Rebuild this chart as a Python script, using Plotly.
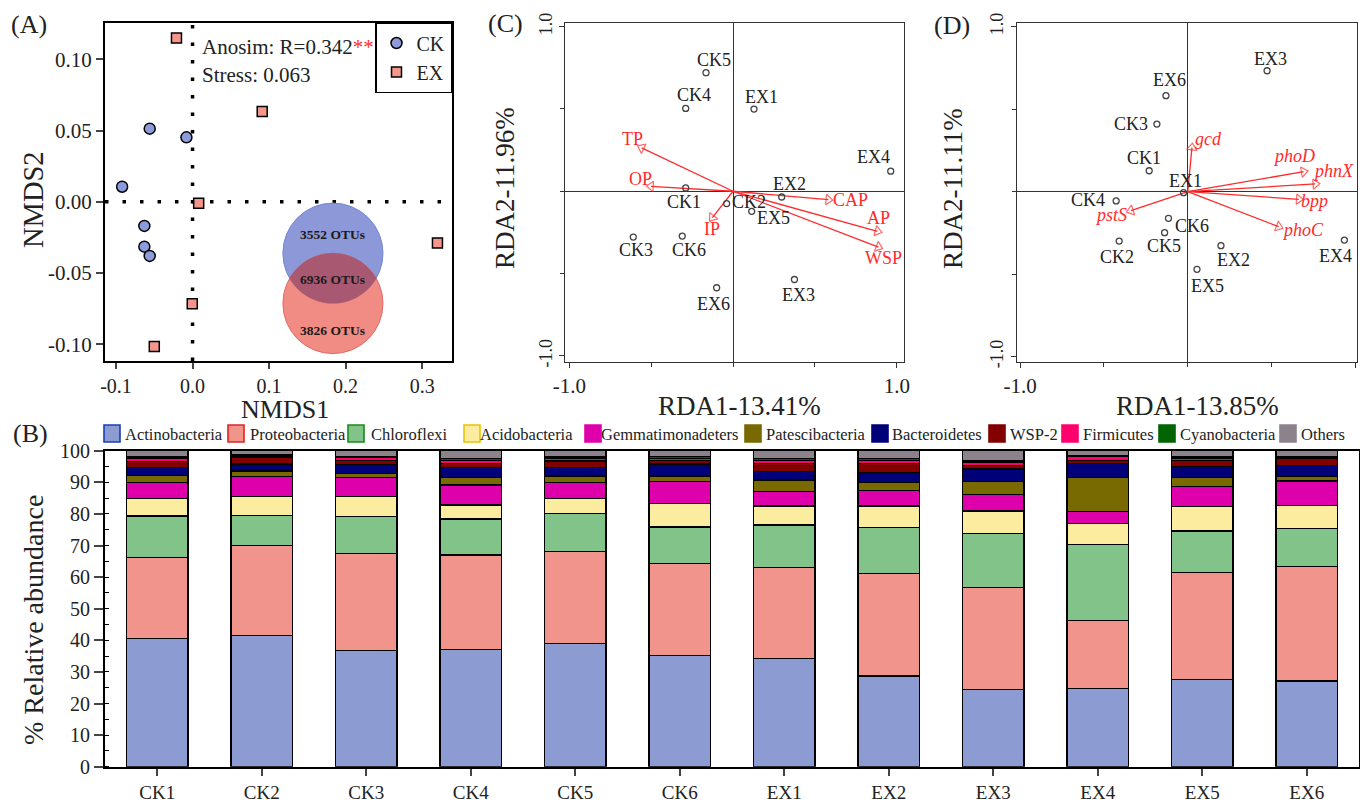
import numpy as np
import plotly.graph_objects as go

W, H = 1360, 803
SERIF = "Liberation Serif, Times New Roman, serif"

# ---------------- Panel A: NMDS ----------------
ck_nmds1 = [-0.056, -0.008, -0.092, -0.063, -0.063, -0.056]
ck_nmds2 = [0.0514, 0.0453, 0.0106, -0.0169, -0.0315, -0.038]
ex_nmds1 = [-0.021, 0.091, 0.008, 0.320, -0.0004, -0.050]
ex_nmds2 = [0.115, 0.0634, -0.001, -0.029, -0.0716, -0.1017]
venn_labels = ["3552 OTUs", "6936 OTUs", "3826 OTUs"]
anosim_r = "0.342"
stress_val = "0.063"

# ---------------- Panel C: RDA (P fractions) ----------------
samples = ["CK1", "CK2", "CK3", "CK4", "CK5", "CK6", "EX1", "EX2", "EX3", "EX4", "EX5", "EX6"]
c_rda1 = [-0.289, -0.039, -0.609, -0.289, -0.165, -0.310, 0.128, 0.297, 0.375, 0.963, 0.114, -0.100]
c_rda2 = [0.020, -0.075, -0.278, 0.503, 0.720, -0.272, 0.499, -0.035, -0.536, 0.122, -0.122, -0.586]
c_vars = ["TP", "OP", "CAP", "AP", "WSP", "IP"]
c_var1 = [-0.558, -0.501, 0.582, 0.882, 0.888, -0.126]
c_var2 = [0.264, 0.030, -0.051, -0.243, -0.339, -0.160]

# ---------------- Panel D: RDA (genes) ----------------
d_rda1 = [-0.230, -0.409, -0.184, -0.427, -0.138, -0.115, -0.025, 0.198, 0.473, 0.934, 0.055, -0.130]
d_rda2 = [0.127, -0.299, 0.410, -0.056, -0.248, -0.161, -0.006, -0.327, 0.733, -0.293, -0.470, 0.582]
d_genes = ["gcd", "phoD", "phnX", "bpp", "phoC", "pstS"]
d_gene1 = [0.025, 0.691, 0.761, 0.662, 0.542, -0.339]
d_gene2 = [0.267, 0.121, 0.047, -0.046, -0.212, -0.115]

# ---------------- Panel B: relative abundance ----------------
phyla = ["Actinobacteria", "Proteobacteria", "Chloroflexi", "Acidobacteria", "Gemmatimonadeters",
         "Patescibacteria", "Bacteroidetes", "WSP-2", "Firmicutes", "Cyanobacteria", "Others"]
actinobacteria = [40.6, 41.5, 36.7, 37.0, 39.0, 35.3, 34.3, 28.7, 24.5, 24.8, 27.6, 27.1]
proteobacteria = [25.5, 28.6, 30.8, 30.0, 29.0, 29.0, 28.7, 32.5, 32.1, 21.4, 33.8, 36.2]
chloroflexi = [13.2, 9.3, 11.6, 11.4, 12.2, 11.6, 13.5, 14.4, 17.2, 24.2, 13.2, 12.1]
acidobacteria = [5.6, 6.0, 6.3, 4.4, 4.7, 7.4, 6.0, 6.9, 7.1, 6.6, 7.7, 7.2]
gemmatimonadetes = [5.0, 6.4, 6.1, 6.3, 5.1, 6.9, 4.7, 4.8, 5.3, 3.7, 6.3, 7.8]
patescibacteria = [2.2, 1.8, 1.3, 2.5, 2.0, 1.8, 3.5, 2.7, 4.0, 10.8, 3.0, 1.4]
bacteroidetes = [2.5, 2.2, 2.9, 3.1, 2.6, 3.8, 2.7, 3.0, 4.0, 4.5, 3.3, 3.5]
wsp2 = [1.9, 2.0, 1.3, 1.3, 2.1, 1.2, 2.6, 3.0, 1.1, 1.0, 2.1, 2.3]
firmicutes = [1.1, 0.5, 0.8, 1.0, 0.9, 0.6, 1.0, 1.0, 1.0, 1.1, 0.6, 0.3]
cyanobacteria = [0.4, 0.3, 0.4, 0.6, 0.4, 0.5, 0.6, 0.6, 0.4, 0.3, 0.4, 0.3]
others = [2.0, 1.4, 1.8, 2.4, 2.0, 1.9, 2.4, 2.4, 3.3, 1.9, 2.0, 1.8]
abund = [actinobacteria, proteobacteria, chloroflexi, acidobacteria, gemmatimonadetes,
         patescibacteria, bacteroidetes, wsp2, firmicutes, cyanobacteria, others]

# ---------------- styles ----------------
fill_cols = ["#8c9bd2", "#f0948c", "#82c38a", "#fcec9f", "#de00aa", "#786900",
             "#000078", "#820000", "#ff006e", "#006400", "#8c828c"]
legend_border = ["#1a3fb0", "#e02424", "#1a8a1a", "#e8c400", "#de00aa", "#786900",
                 "#000078", "#820000", "#ff006e", "#006400", "#8c828c"]
legend_box_px = [104, 228, 348, 464, 585, 745, 872, 989, 1062, 1159, 1280]
legend_txt_px = [125, 250, 371, 480, 601, 766, 892, 1010, 1083, 1180, 1301]

c_lab_off = [(-2, 14), (22, -2), (3, 13), (8, -13), (8, -13), (7, 14),
             (8, -12), (8, -13), (4, 15), (-17, -14), (22, 7), (-3, 16)]
c_var_off = [(-9, -9), (-10, -7), (22, 0), (1, -13), (5, 11), (0, 11)]
d_lab_off = [(-5, -13), (-2, 16), (-26, 0), (-28, -1), (-1, 13), (24, 8),
             (2, -12), (13, 14), (3, -12), (-9, 16), (11, 17), (4, -16)]
d_var_off = [(17, -9), (-10, -16), (18, -13), (16, 2), (24, 3), (-20, 4)]

RED = "#ff2a2a"
TXT = "#222"


def px(x):
    return x / W


def py(y):
    return 1 - y / H


fig = go.Figure()

# ---- Panel A traces ----
fig.add_trace(go.Scatter(x=ck_nmds1, y=ck_nmds2, mode="markers", name="CK",
                         marker=dict(symbol="circle", size=11, color="#8c9bdc",
                                     line=dict(color="black", width=1.5)),
                         xaxis="x", yaxis="y"))
fig.add_trace(go.Scatter(x=ex_nmds1, y=ex_nmds2, mode="markers", name="EX",
                         marker=dict(symbol="square", size=10, color="#f5968c",
                                     line=dict(color="black", width=1.5)),
                         xaxis="x", yaxis="y"))

# ---- Panel C traces ----
for name, vx, vy in zip(c_vars, c_var1, c_var2):
    fig.add_trace(go.Scatter(x=[0, vx], y=[0, vy], mode="lines+markers", showlegend=False,
                             line=dict(color=RED, width=1.3),
                             marker=dict(symbol="triangle-up-open", size=[0, 9], angleref="previous",
                                         color=RED, line=dict(color=RED, width=1.2)),
                             xaxis="x2", yaxis="y2", hoverinfo="skip"))
fig.add_trace(go.Scatter(x=c_rda1, y=c_rda2, mode="markers", showlegend=False,
                         marker=dict(symbol="circle-open", size=6, color="#444",
                                     line=dict(width=1.3)),
                         xaxis="x2", yaxis="y2"))

# ---- Panel D traces ----
for name, vx, vy in zip(d_genes, d_gene1, d_gene2):
    fig.add_trace(go.Scatter(x=[0, vx], y=[0, vy], mode="lines+markers", showlegend=False,
                             line=dict(color=RED, width=1.3),
                             marker=dict(symbol="triangle-up-open", size=[0, 9], angleref="previous",
                                         color=RED, line=dict(color=RED, width=1.2)),
                             xaxis="x3", yaxis="y3", hoverinfo="skip"))
fig.add_trace(go.Scatter(x=d_rda1, y=d_rda2, mode="markers", showlegend=False,
                         marker=dict(symbol="circle-open", size=6, color="#444",
                                     line=dict(width=1.3)),
                         xaxis="x3", yaxis="y3"))

# ---- Panel B bars ----
for name, vals, col in zip(phyla, abund, fill_cols):
    fig.add_trace(go.Bar(x=samples, y=vals, name=name, showlegend=False,
                         marker=dict(color=col, line=dict(color="black", width=1.3)),
                         xaxis="x4", yaxis="y4"))

# ---- axes ----
tf_a = dict(family=SERIF, size=21, color=TXT)
tf_ax = dict(family=SERIF, size=20, color=TXT)
tf_rx = dict(family=SERIF, size=21, color=TXT)
tf_ry = dict(family=SERIF, size=18, color=TXT)
tf_b = dict(family=SERIF, size=20, color=TXT)
tf_bx = dict(family=SERIF, size=19, color=TXT)
frame = dict(showline=True, linecolor="black", mirror=True, showgrid=False, zeroline=False,
             automargin=False)


def rda_axis(domain, rng, anchor, tf, angle=None):
    d = dict(domain=domain, range=rng, anchor=anchor,
             tickvals=[-1, 1], ticktext=["-1.0", "1.0"], ticks="outside", ticklen=5, tickwidth=1.3,
             tickcolor="#333",
             minor=dict(tickvals=[-0.5, 0, 0.5], ticks="outside", ticklen=4, tickwidth=1.2, tickcolor="#333"),
             linewidth=1.4, linecolor="#333", mirror=True, showgrid=False, showline=True,
             zeroline=True, zerolinecolor="#333", zerolinewidth=1.3, tickfont=tf, automargin=False)
    if angle is not None:
        d["tickangle"] = angle
    return d


fig.update_layout(
    xaxis=dict(domain=[px(105), px(452)], range=[-0.1144, 0.339], anchor="y",
               tickvals=[-0.1, 0.0, 0.1, 0.2, 0.3], ticktext=["-0.1", "0.0", "0.1", "0.2", "0.3"],
               ticks="outside", ticklen=6, tickwidth=1.5, linewidth=2, tickfont=tf_ax, **frame),
    yaxis=dict(domain=[py(361), py(22.7)], range=[-0.1118, 0.1258], anchor="x",
               tickvals=[-0.1, -0.05, 0.0, 0.05, 0.1], ticktext=["-0.10", "-0.05", "0.00", "0.05", "0.10"],
               ticks="outside", ticklen=7, tickwidth=1.5, linewidth=2, tickfont=tf_a, **frame),
    xaxis2=rda_axis([px(565), px(904)], [-1.026, 1.044], "y2", tf_rx),
    yaxis2=rda_axis([py(361.5), py(23)], [-1.034, 1.022], "x2", tf_ry, -90),
    xaxis3=rda_axis([px(1016.7), px(1357.3)], [-1.02, 1.011], "y3", tf_rx),
    yaxis3=rda_axis([py(361.7), py(22.7)], [-1.03, 1.024], "x3", tf_ry, -90),
    xaxis4=dict(domain=[px(105), px(1359)], range=[-0.5, 11.5], anchor="y4", type="category",
                ticks="outside", ticklen=7, tickwidth=1.5, linewidth=2, tickfont=tf_bx, **frame),
    yaxis4=dict(domain=[py(766.7), py(450.7)], range=[0, 100], anchor="x4",
                dtick=10, ticks="outside", ticklen=9, tickwidth=1.5, linewidth=2,
                minor=dict(dtick=5, ticks="inside", ticklen=4, tickwidth=1.2, tickcolor="black"),
                tickfont=tf_b, **frame),
    barmode="stack", bargap=0.41,
    width=W, height=H, autosize=False,
    margin=dict(l=0, r=0, t=0, b=0, pad=0, autoexpand=False),
    paper_bgcolor="white", plot_bgcolor="white",
    font=dict(family=SERIF, color=TXT),
    legend=dict(x=px(452), xanchor="right", y=py(22), yanchor="top", traceorder="normal",
                bgcolor="white", bordercolor="black", borderwidth=1.5,
                font=dict(family=SERIF, size=20, color=TXT), itemwidth=30,
                tracegroupgap=0),
)

shapes = []
annotations = []


def ann(**kw):
    base = dict(showarrow=False, xanchor="center", yanchor="middle")
    base.update(kw)
    annotations.append(base)


# dotted zero lines in A
shapes.append(dict(type="line", xref="x", yref="y domain", x0=0, x1=0, y0=0, y1=1,
                   line=dict(color="black", width=3.5, dash="3.5px,14px"), layer="below"))
shapes.append(dict(type="line", xref="x domain", yref="y", x0=0, x1=1, y0=0, y1=0,
                   line=dict(color="black", width=3.5, dash="3.5px,14px"), layer="below"))

# Venn diagram in A
v_cx, v_cy_top, v_cy_bot, v_rx, v_ry = 0.1834, -0.0361, -0.0714, 0.0654, 0.0352
shapes.append(dict(type="circle", xref="x", yref="y",
                   x0=v_cx - v_rx, x1=v_cx + v_rx, y0=v_cy_top - v_ry, y1=v_cy_top + v_ry,
                   fillcolor="rgb(140,152,215)", line=dict(color="#6f86d6", width=1)))
shapes.append(dict(type="circle", xref="x", yref="y",
                   x0=v_cx - v_rx, x1=v_cx + v_rx, y0=v_cy_bot - v_ry, y1=v_cy_bot + v_ry,
                   fillcolor="rgb(240,140,132)", line=dict(color="#e06a66", width=1)))
d_norm = (v_cy_top - v_cy_bot) / v_ry
a_ang = np.arcsin(d_norm / 2)
t1 = np.linspace(-np.pi + a_ang, -a_ang, 40)
t2 = np.linspace(a_ang, np.pi - a_ang, 40)
lx = np.concatenate([v_cx + v_rx * np.cos(t1), v_cx + v_rx * np.cos(t2)])
ly = np.concatenate([v_cy_top + v_ry * np.sin(t1), v_cy_bot + v_ry * np.sin(t2)])
path = "M " + " L ".join(f"{a:.5f},{b:.5f}" for a, b in zip(lx, ly)) + " Z"
shapes.append(dict(type="path", xref="x", yref="y", path=path,
                   fillcolor="rgb(168,88,112)", line=dict(color="rgb(168,88,112)", width=0.5)))
for txt, yy in zip(venn_labels, [234, 279, 330]):
    ann(x=px(332), y=py(yy), xref="paper", yref="paper", text=f"<b>{txt}</b>",
        font=dict(family=SERIF, size=13.5, color="#1a1a1a"))

ann(x=px(200), y=py(47), xref="paper", yref="paper", xanchor="left",
    text=f"Anosim: R={anosim_r}<span style='color:#ff3030'>**</span>",
    font=dict(family=SERIF, size=21, color=TXT))
ann(x=px(200), y=py(75), xref="paper", yref="paper", xanchor="left",
    text=f"Stress: {stress_val}", font=dict(family=SERIF, size=21, color=TXT))

# labels in C
for s, x, y, (dx, dy) in zip(samples, c_rda1, c_rda2, c_lab_off):
    ann(x=x, y=y, xref="x2", yref="y2", text=s, xshift=dx, yshift=-dy,
        font=dict(family=SERIF, size=18, color=TXT))
for s, x, y, (dx, dy) in zip(c_vars, c_var1, c_var2, c_var_off):
    ann(x=x, y=y, xref="x2", yref="y2", text=s, xshift=dx, yshift=-dy,
        font=dict(family=SERIF, size=18, color=RED))
# labels in D
for s, x, y, (dx, dy) in zip(samples, d_rda1, d_rda2, d_lab_off):
    ann(x=x, y=y, xref="x3", yref="y3", text=s, xshift=dx, yshift=-dy,
        font=dict(family=SERIF, size=18, color=TXT))
for s, x, y, (dx, dy) in zip(d_genes, d_gene1, d_gene2, d_var_off):
    ann(x=x, y=y, xref="x3", yref="y3", text=f"<i>{s}</i>", xshift=dx, yshift=-dy,
        font=dict(family=SERIF, size=18, color=RED))

# axis titles
titles = [
    ("NMDS1", 285, 409, 0, 26), ("NMDS2", 33, 200, -90, 28.5),
    ("RDA1-13.41%", 740, 406, 0, 27), ("RDA2-11.96%", 505, 188, -90, 27),
    ("RDA1-13.85%", 1197, 406, 0, 27), ("RDA2-11.11%", 953, 188, -90, 27),
    ("% Relative abundance", 33, 620, -90, 28),
]
for txt, x, y, ang, sz in titles:
    ann(x=px(x), y=py(y), xref="paper", yref="paper", text=txt, textangle=ang,
        font=dict(family=SERIF, size=sz, color=TXT))

# panel letters
for txt, x, y in [("(A)", 29, 24), ("(C)", 505, 23), ("(D)", 952, 25), ("(B)", 30, 433)]:
    ann(x=px(x), y=py(y), xref="paper", yref="paper", text=txt,
        font=dict(family=SERIF, size=26, color=TXT))

# manual legend for B
for name, fc, bc, bx, tx in zip(phyla, fill_cols, legend_border, legend_box_px, legend_txt_px):
    shapes.append(dict(type="rect", xref="paper", yref="paper",
                       x0=px(bx), x1=px(bx + 16), y0=py(442), y1=py(425),
                       fillcolor=fc, line=dict(color=bc, width=1.6)))
    ann(x=px(tx - 2), y=py(434), xref="paper", yref="paper", text=name, xanchor="left",
        font=dict(family=SERIF, size=16.5, color=TXT))

fig.update_layout(shapes=shapes, annotations=annotations)

fig.write_html("out.html", config={"displayModeBar": False},
               post_script="document.body.style.margin='0';")
